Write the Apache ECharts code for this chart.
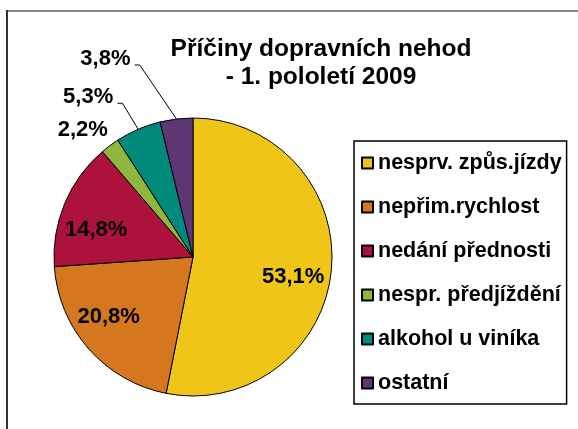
<!DOCTYPE html>
<html>
<head>
<meta charset="utf-8">
<script src="https://cdn.jsdelivr.net/npm/echarts@6/dist/echarts.min.js"></script>
<style>
  html, body { margin: 0; padding: 0; background: #fff; }
  #main { width: 578px; height: 429px; }
</style>
</head>
<body>
<div id="main"></div>
<script>
var causes = ['nesprv. způs.jízdy', 'nepřim.rychlost', 'nedání přednosti', 'nespr. předjíždění', 'alkohol u viníka', 'ostatní'];
var shares = [53.1, 20.8, 14.8, 2.2, 5.3, 3.8];
var colors = ['#EFC617', '#D5771F', '#AD123C', '#8DB83D', '#008A7C', '#5E3674'];
var insideLabel = [true, true, true, false, false, false];

// posun popisku proti vychozi poloze knihovny
var labelShift = [
    { dx: 28, dy: 13 },
    { dx: -30, dy: 12 },
    { dx: -30, dy: 1 },
    { dx: -2, dy: -16 },
    { dx: -25, dy: -32 },
    { dx: -46, dy: -60 }
];

var myChart = echarts.init(document.getElementById('main'));

var pieData = [];
for (var i = 0; i < causes.length; i++) {
    var item = {
        name: causes[i],
        value: shares[i],
        itemStyle: { color: colors[i] }
    };
    if (insideLabel[i]) {
        item.label = { position: 'inside' };
        item.labelLine = { show: false };
    }
    if (i === 3) {
        item.labelLine = { lineStyle: { opacity: 0 } };
    }
    pieData.push(item);
}

var option = {
    backgroundColor: '#fff',
    animation: false,
    title: {
        text: 'Příčiny dopravních nehod\n- 1. pololetí 2009',
        left: 321,
        top: 35,
        padding: 0,
        textAlign: 'center',
        textStyle: {
            fontFamily: 'Liberation Sans, Arial, sans-serif',
            fontSize: 24.5,
            fontWeight: 'bold',
            color: '#000',
            lineHeight: 28
        }
    },
    legend: {
        orient: 'vertical',
        left: 354,
        top: 141,
        padding: [11, 5, 10, 7],
        itemGap: 22,
        itemWidth: 11,
        itemHeight: 11,
        icon: 'rect',
        borderColor: '#000',
        borderWidth: 1.5,
        borderRadius: 0,
        textStyle: {
            fontFamily: 'Liberation Sans, Arial, sans-serif',
            fontSize: 21.5,
            fontWeight: 'bold',
            color: '#000'
        },
        data: causes
    },
    graphic: [
        { type: 'line', shape: { x1: 7, y1: 11, x2: 578, y2: 11 }, style: { stroke: '#888', lineWidth: 2 } },
        { type: 'line', shape: { x1: 7, y1: 10, x2: 7, y2: 429 }, style: { stroke: '#333', lineWidth: 2 } }
    ],
    series: [{
        type: 'pie',
        center: [193, 257],
        radius: 139,
        startAngle: 90,
        clockwise: true,
        avoidLabelOverlap: false,
        silent: true,
        itemStyle: {
            borderColor: '#000',
            borderWidth: 1
        },
        label: {
            show: true,
            position: 'outside',
            fontFamily: 'Liberation Sans, Arial, sans-serif',
            fontSize: 22,
            fontWeight: 'bold',
            color: '#000',
            formatter: function (p) {
                return p.value.toFixed(1).replace('.', ',') + '%';
            }
        },
        labelLine: {
            show: true,
            length: 10,
            length2: 5,
            lineStyle: { color: '#000', width: 1 }
        },
        labelLayout: function (p) {
            var s = labelShift[p.dataIndex];
            var r = p.labelRect;
            if (insideLabel[p.dataIndex]) {
                return { x: r.x + r.width / 2 + s.dx, y: r.y + r.height / 2 + s.dy };
            }
            var edge = p.labelLinePoints ? p.labelLinePoints[0] : [r.x + r.width, r.y + r.height / 2];
            var ax = edge[0] + s.dx;
            var ay = edge[1] + s.dy;
            return {
                x: ax,
                y: ay,
                labelLinePoints: [edge, [ax + 9.3, ay + 6], [ax + 4.3, ay + 6]]
            };
        },
        data: pieData
    }]
};
myChart.setOption(option);
</script>
</body>
</html>
